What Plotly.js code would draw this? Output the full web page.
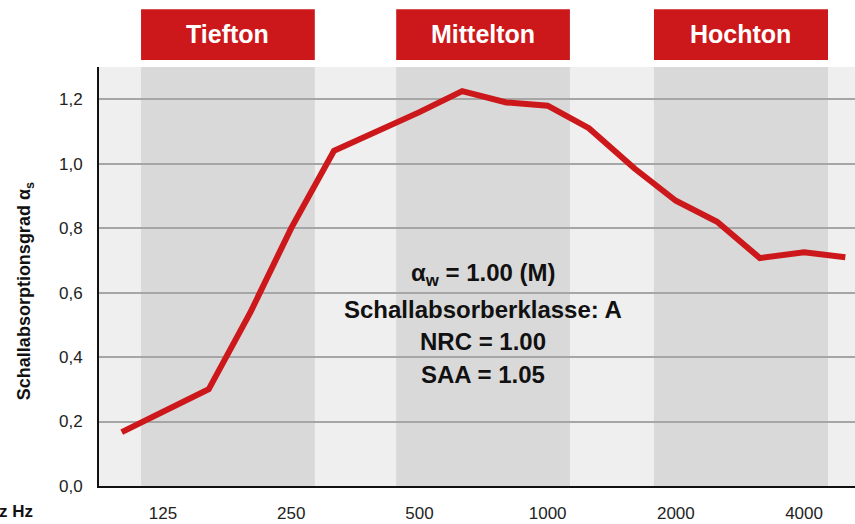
<!DOCTYPE html>
<html><head><meta charset="utf-8">
<script src="https://cdn.plot.ly/plotly-3.0.1.min.js"></script>
<style>html,body{margin:0;padding:0;background:#fff}#c{width:855px;height:524px}</style>
</head><body><div id="c"></div>
<script>
const frequencies = [100,125,160,200,250,315,400,500,630,800,1000,1250,1600,2000,2500,3150,4000,5000];
const absorption = [0.167,0.23,0.30,0.536,0.80,1.04,1.10,1.16,1.225,1.19,1.18,1.11,0.985,0.885,0.82,0.707,0.725,0.71];
const tickValues = [125,250,500,1000,2000,4000];
const tickLabels = ['125','250','500','1000','2000','4000'];
const rangeNames = ['Tiefton','Mittelton','Hochton'];
const rangeStart = [111,441,1777];
const rangeEnd = [284,1128,4553];
const infoLines = ['α<sub>w</sub> = 1.00 (M)','Schallabsorberklasse: A','NRC = 1.00','SAA = 1.05'];

const red = '#cd181b';
const font = 'Liberation Sans, Arial, Helvetica, sans-serif';
const shapes = [];
const annotations = [];
rangeNames.forEach((n,i)=>{
  shapes.push({type:'rect',layer:'below',xref:'x',yref:'paper',x0:rangeStart[i],x1:rangeEnd[i],y0:0,y1:1,fillcolor:'#d9d9d9',line:{width:0}});
  shapes.push({type:'rect',layer:'above',xref:'x',yref:'paper',x0:rangeStart[i],x1:rangeEnd[i],y0:1.0167,y1:1.138,fillcolor:red,line:{width:0}});
  annotations.push({xref:'x',yref:'paper',x:(Math.log10(rangeStart[i])+Math.log10(rangeEnd[i]))/2,y:1.078,text:'<b>'+n+'</b>',showarrow:false,
    font:{family:font,size:25,color:'#fff'},xanchor:'center',yanchor:'middle'});
});
const infoY = [0.5036,0.4224,0.3437,0.2673];
infoLines.forEach((t,i)=>{
  annotations.push({xref:'paper',yref:'paper',x:0.508,y:infoY[i],text:'<b>'+t+'</b>',showarrow:false,
    font:{family:font,size:24,color:'#111'},xanchor:'center',yanchor:'middle'});
});
annotations.push({xref:'paper',yref:'paper',x:-0.0979,y:0.465,text:'<b>Schallabsorptionsgrad α<sub>s</sub></b>',textangle:-90,showarrow:false,
  font:{family:font,size:18,color:'#111'},xanchor:'center',yanchor:'middle'});
annotations.push({xref:'paper',yref:'paper',x:-0.085,y:-0.0597,text:'<b>Frequenz Hz</b>',showarrow:false,
  font:{family:font,size:17,color:'#111'},xanchor:'right',yanchor:'middle'});

const data = [{x:frequencies,y:absorption,type:'scatter',mode:'lines',line:{color:red,width:6},hoverinfo:'skip'}];
const layout = {
  width:855,height:524,
  margin:{l:99,r:0,t:67,b:38},
  paper_bgcolor:'#fff',plot_bgcolor:'#efefef',
  separators:',.',
  showlegend:false,
  font:{family:font,color:'#222'},
  xaxis:{type:'log',range:[1.9466,3.7217],tickvals:tickValues,ticktext:tickLabels,showgrid:false,zeroline:false,
    showline:true,linecolor:'#111',linewidth:2,ticks:'',tickfont:{size:17,color:'#222'},ticklabelstandoff:11,fixedrange:true},
  yaxis:{range:[0,1.3],dtick:0.2,tick0:0,tickformat:'.1f',showgrid:true,gridcolor:'#a6a6a6',gridwidth:2,zeroline:false,
    showline:true,linecolor:'#111',linewidth:2,ticks:'',tickfont:{size:17,color:'#222'},ticklabelstandoff:11,fixedrange:true},
  shapes:shapes,annotations:annotations
};
Plotly.newPlot('c',data,layout,{staticPlot:true,displayModeBar:false});
</script></body></html>
